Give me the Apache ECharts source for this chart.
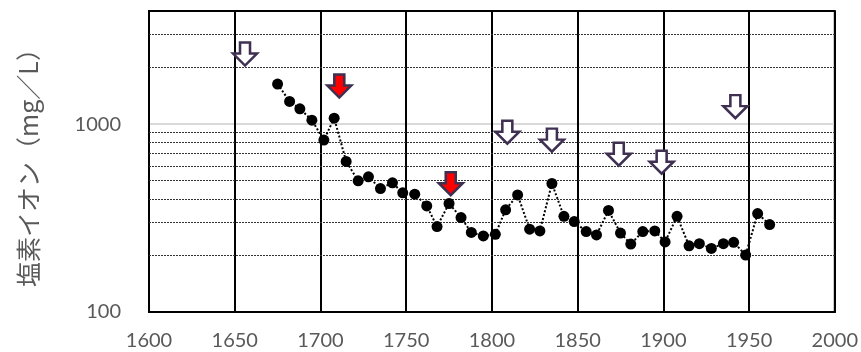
<!DOCTYPE html>
<html lang="ja">
<head>
<meta charset="utf-8">
<script src="https://cdn.jsdelivr.net/npm/echarts@6/dist/echarts.min.js"></script>
<style>
  *{ margin:0; padding:0; }
  body{ background:#fff; }
</style>
</head>
<body>
<div id="main" style="width:861px;height:352px;"></div>
<script>
// 年と塩素イオン濃度 (mg/L)
var years = [1675, 1682, 1688, 1695, 1702, 1708, 1715, 1722, 1728, 1735, 1742, 1748, 1755, 1762, 1768,
             1775, 1782, 1788, 1795, 1802, 1808, 1815, 1822, 1828, 1835, 1842, 1848, 1855, 1861, 1868,
             1875, 1881, 1888, 1895, 1901, 1908, 1915, 1921, 1928, 1935, 1941, 1948, 1955, 1962];
var chloride = [1634, 1321, 1207, 1050, 822, 1076, 633, 499, 524, 454, 487, 431, 424, 367, 285,
                378, 318, 265, 254, 259, 350, 420, 276, 270, 483, 323, 303, 268, 257, 347,
                263, 230, 268, 270, 236, 323, 225, 231, 218, 231, 235, 201, 334, 292];

// 白抜き矢印・赤矢印の位置
var openArrowYears = [1656, 1809, 1835, 1874, 1899, 1942];
var openArrowValues = [2360, 906, 822, 692, 627, 1239];
var redArrowYears = [1711, 1776];
var redArrowValues = [1594, 482];

// 補助目盛線
var minorLines = [200, 300, 400, 500, 600, 700, 800, 900, 2000, 3000];

var arrowPath = 'path://M7,0 L17,0 L17,11 L24,11 L12,23 L0,11 L7,11 Z';

function pairs(xs, ys) {
    return xs.map(function (x, i) { return [x, ys[i]]; });
}

var myChart = echarts.init(document.getElementById('main'));

var option = {
    animation: false,
    grid: {
        left: 149, top: 11, right: 24, bottom: 40,
        show: true, borderColor: '#000', borderWidth: 2
    },
    xAxis: {
        type: 'value',
        min: 1600, max: 2000, interval: 50,
        axisLine: { show: true, lineStyle: { color: '#000', width: 2 } },
        axisTick: { show: false },
        axisLabel: {
            color: '#595959', fontSize: 20, fontFamily: 'Lato', margin: 19,
            formatter: function (v) { return String(v); }
        },
        splitLine: { show: true, lineStyle: { color: '#000', width: 2 } }
    },
    yAxis: {
        type: 'log',
        logBase: 10,
        min: 100, max: 4000,
        name: '塩素イオン（mg／L）',
        nameLocation: 'middle',
        nameRotate: 90,
        nameGap: 108,
        nameTextStyle: { color: '#595959', fontSize: 25, fontFamily: 'Noto Sans CJK JP' },
        axisLine: { show: true, lineStyle: { color: '#000', width: 2 } },
        axisTick: { show: false },
        axisLabel: {
            color: '#595959', fontSize: 20, fontFamily: 'Lato', margin: 28,
            formatter: function (v) {
                var r = Math.round(v);
                return (r === 100 || r === 1000) ? String(r) : '';
            }
        },
        splitLine: {
            show: true, showMinLine: false, showMaxLine: false,
            lineStyle: { color: '#d9d9d9', width: 2 }
        }
    },
    series: [{
        type: 'line',
        data: pairs(years, chloride),
        symbol: 'circle',
        symbolSize: 11,
        itemStyle: { color: '#000' },
        lineStyle: { color: '#000', width: 2, type: 'dotted' },
        z: 3,
        markLine: {
            silent: true,
            symbol: ['none', 'none'],
            label: { show: false },
            lineStyle: { color: '#333', width: 1, type: [2, 1] },
            data: minorLines.map(function (v) { return { yAxis: v }; }),
            z: 1
        }
    }, {
        type: 'scatter',
        data: pairs(openArrowYears, openArrowValues),
        symbol: arrowPath,
        symbolSize: [24, 23],
        itemStyle: { color: '#fff', borderColor: '#3f3052', borderWidth: 2.5, opacity: 1 },
        z: 4
    }, {
        type: 'scatter',
        data: pairs(redArrowYears, redArrowValues),
        symbol: arrowPath,
        symbolSize: [24, 23],
        itemStyle: { color: '#ff0000', borderColor: '#3f3052', borderWidth: 2.5, opacity: 1 },
        z: 4
    }]
};

myChart.setOption(option);
</script>
</body>
</html>
